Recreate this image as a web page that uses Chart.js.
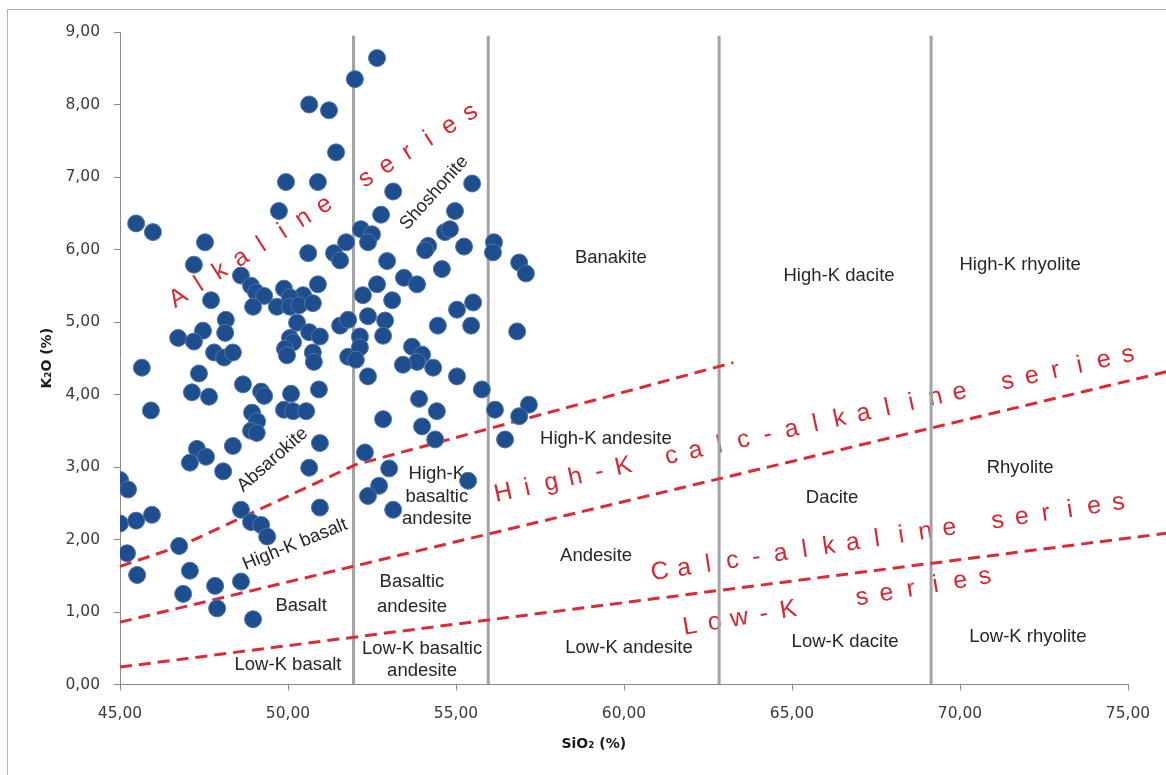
<!DOCTYPE html>
<html>
<head>
<meta charset="utf-8">
<script src="https://cdn.jsdelivr.net/npm/chart.js@4.4.0/dist/chart.umd.min.js"></script>
<style>
  html, body { margin: 0; padding: 0; background: #ffffff; }
  canvas { display: block; }
</style>
</head>
<body>
<canvas id="chart" width="1166" height="775"></canvas>
<script>
// SiO2 (%) and K2O (%) of the analysed samples
const sio2 = [
  45.48, 45.98, 47.53, 47.20, 48.60, 48.90, 49.05, 49.29, 49.88, 50.45,
  50.89, 50.06, 49.67, 50.06, 50.33, 50.74, 48.96, 47.71, 50.27, 51.55,
  51.79, 48.15, 48.13, 47.47, 46.73, 47.20, 50.06, 50.15, 50.63, 50.95,
  49.91, 49.97, 50.74, 50.77, 47.80, 48.10, 48.36, 45.65, 47.35, 51.79,
  48.66, 49.20, 49.29, 50.92, 50.09, 47.14, 47.65, 45.92, 48.93, 49.08,
  49.88, 50.15, 50.54, 48.90, 49.07, 50.95, 47.29, 47.56, 47.08, 48.36,
  48.07, 50.63, 45.00, 45.24, 45.00, 45.48, 45.95, 48.60, 48.90, 49.20,
  49.38, 50.95, 46.76, 45.21, 45.51, 47.08, 47.83, 48.60, 46.88, 47.89,
  48.96, 50.63, 51.22, 51.43, 49.94, 50.89, 49.73, 51.99, 52.65, 50.60,
  51.37, 51.55, 51.73,
  55.48, 53.13, 52.77, 54.97, 52.17, 52.50, 54.67, 54.82, 56.13, 52.38,
  52.95, 54.17, 54.08, 55.24, 56.10, 56.88, 57.08, 54.58, 53.45, 53.84,
  52.65, 52.23, 53.10, 55.51, 55.03, 52.38, 52.89, 52.83, 52.14, 54.46,
  55.45, 56.82, 52.14, 52.02, 53.69, 53.99, 53.84, 53.42, 54.32, 52.38,
  55.03, 55.77, 53.90, 54.43, 52.83, 53.99, 56.16, 57.17, 56.88, 54.38,
  56.46, 52.29, 53.01, 52.71, 52.38, 53.13, 55.36
];
const k2o = [
  6.36, 6.24, 6.10, 5.79, 5.64, 5.50, 5.41, 5.36, 5.46, 5.37,
  5.52, 5.34, 5.21, 5.21, 5.23, 5.26, 5.21, 5.30, 4.99, 4.95,
  5.03, 5.03, 4.85, 4.88, 4.78, 4.73, 4.78, 4.72, 4.86, 4.80,
  4.63, 4.54, 4.58, 4.45, 4.58, 4.51, 4.58, 4.37, 4.29, 4.52,
  4.14, 4.04, 3.98, 4.07, 4.01, 4.03, 3.97, 3.78, 3.75, 3.63,
  3.79, 3.77, 3.77, 3.50, 3.47, 3.33, 3.25, 3.14, 3.06, 3.29,
  2.94, 2.99, 2.82, 2.69, 2.22, 2.26, 2.34, 2.41, 2.24, 2.20,
  2.04, 2.44, 1.91, 1.81, 1.51, 1.57, 1.36, 1.42, 1.25, 1.05,
  0.90, 8.00, 7.92, 7.34, 6.93, 6.93, 6.53, 8.35, 8.64, 5.95,
  5.95, 5.85, 6.10,
  6.91, 6.80, 6.48, 6.53, 6.28, 6.21, 6.24, 6.28, 6.10, 6.10,
  5.84, 6.05, 5.99, 6.04, 5.96, 5.82, 5.67, 5.73, 5.61, 5.52,
  5.52, 5.37, 5.30, 5.27, 5.17, 5.08, 5.02, 4.81, 4.80, 4.95,
  4.95, 4.87, 4.65, 4.48, 4.66, 4.55, 4.45, 4.41, 4.37, 4.25,
  4.25, 4.07, 3.94, 3.77, 3.66, 3.56, 3.79, 3.86, 3.70, 3.38,
  3.38, 3.20, 2.98, 2.74, 2.60, 2.41, 2.81
];

// Axis ranges and tick steps
const xRange = [45, 75];
const xStep = 5;
const yRange = [0, 9];
const yStep = 1;

// Vertical SiO2 boundaries between rock names (K2O 0 up to the top)
const fieldBoundaries = [51.95, 55.96, 62.83, 69.14];
const fieldBoundaryTop = 8.95;

// Series boundaries (Peccerillo & Taylor type K2O-SiO2 divisions)
const shoshoniteLineX = [45, 46.8, 52, 63.25];
const shoshoniteLineY = [1.63, 1.91, 3.03, 4.44];
const highKLineX = [45, 76.2];
const highKLineY = [0.86, 4.32];
const lowKLineX = [45, 76.2];
const lowKLineY = [0.24, 2.09];

// Rock field names: text, SiO2, K2O, rotation (degrees, counter-clockwise)
const fieldText = [
  'Banakite', 'High-K dacite', 'High-K rhyolite', 'High-K andesite', 'Rhyolite',
  'Dacite', 'Andesite', 'Basaltic', 'andesite', 'High-K', 'basaltic', 'andesite',
  'Basalt', 'Low-K basalt', 'Low-K basaltic', 'andesite', 'Low-K andesite',
  'Low-K dacite', 'Low-K rhyolite', 'Shoshonite', 'Absarokite', 'High-K basalt'
];
const fieldX = [
  59.61, 66.40, 71.79, 59.46, 71.79,
  66.19, 59.17, 53.69, 53.69, 54.43, 54.43, 54.43,
  50.39, 50.00, 53.99, 53.99, 60.15,
  66.58, 72.02, 54.35, 49.54, 50.21
];
const fieldY = [
  5.89, 5.64, 5.79, 3.39, 2.99,
  2.58, 1.78, 1.42, 1.07, 2.91, 2.59, 2.28,
  1.08, 0.27, 0.49, 0.19, 0.50,
  0.59, 0.66, 6.78, 3.10, 1.93
];
const fieldAngle = [
  0, 0, 0, 0, 0,
  0, 0, 0, 0, 0, 0, 0,
  0, 0, 0, 0, 0,
  0, 0, 48, 41.5, 22
];

// Magma series names, spread letter by letter along the boundaries
const seriesText = ['Alkaline series', 'High-K calc-alkaline series', 'Calc-alkaline series', 'Low-K  series'];
const seriesX = [51.08, 65.70, 67.89, 66.35];
const seriesY = [6.61, 3.59, 2.03, 1.14];
const seriesAngle = [32.4, 12.5, 8.6, 9.6];
const seriesStep = [24.7, 24.6, 24.4, 24.9];

const fmt = v => v.toFixed(2).replace('.', ',');

const boundaryDatasets = fieldBoundaries.map(b => ({
  type: 'line',
  data: [{ x: b, y: 0 }, { x: b, y: fieldBoundaryTop }],
  borderColor: '#a3a3a3',
  borderWidth: 3,
  pointRadius: 0,
  fill: false,
  order: 3
}));

const dashedLine = (xs, ys) => ({
  type: 'line',
  data: xs.map((x, i) => ({ x, y: ys[i] })),
  borderColor: '#db2b36',
  borderWidth: 3,
  borderDash: [12, 7],
  pointRadius: 0,
  tension: 0,
  fill: false,
  clip: false,
  order: 2
});

const framePlugin = {
  id: 'frame',
  beforeDraw(chart) {
    const ctx = chart.ctx;
    ctx.save();
    ctx.fillStyle = '#ffffff';
    ctx.fillRect(0, 0, chart.width, chart.height);
    ctx.strokeStyle = '#b4b4b4';
    ctx.lineWidth = 1;
    ctx.strokeRect(7.5, 9.5, chart.width + 10, chart.height + 10);
    ctx.restore();
  }
};

const labelPlugin = {
  id: 'fieldLabels',
  beforeDatasetsDraw(chart) {
    const ctx = chart.ctx;
    const sx = chart.scales.x, sy = chart.scales.y;
    ctx.save();
    // rock field names
    ctx.fillStyle = '#262626';
    ctx.font = '18.5px "Liberation Sans", Arial, sans-serif';
    ctx.textAlign = 'center';
    ctx.textBaseline = 'middle';
    fieldText.forEach((t, i) => {
      ctx.save();
      ctx.translate(sx.getPixelForValue(fieldX[i]), sy.getPixelForValue(fieldY[i]));
      ctx.rotate(-fieldAngle[i] * Math.PI / 180);
      ctx.fillText(t, 0, 0);
      ctx.restore();
    });
    // series names
    ctx.fillStyle = '#d42832';
    ctx.font = '25px "Liberation Sans", Arial, sans-serif';
    seriesText.forEach((t, i) => {
      const chars = Array.from(t);
      const mid = (chars.length - 1) / 2;
      ctx.save();
      ctx.translate(sx.getPixelForValue(seriesX[i]), sy.getPixelForValue(seriesY[i]));
      ctx.rotate(-seriesAngle[i] * Math.PI / 180);
      chars.forEach((c, j) => {
        if (c !== ' ') ctx.fillText(c, (j - mid) * seriesStep[i], 0);
      });
      ctx.restore();
    });
    ctx.restore();
  },
  afterDraw(chart) {
    const ctx = chart.ctx;
    const a = chart.chartArea;
    ctx.save();
    ctx.fillStyle = '#1a1a1a';
    ctx.font = 'bold 14px "DejaVu Sans", Verdana, sans-serif';
    ctx.textAlign = 'center';
    ctx.textBaseline = 'middle';
    ctx.save();
    ctx.translate(a.left - 73, (a.top + a.bottom) / 2);
    ctx.rotate(-Math.PI / 2);
    ctx.fillText('K\u2082O (%)', 0, 0);
    ctx.restore();
    ctx.fillText('SiO\u2082 (%)', chart.scales.x.getPixelForValue(59.1), a.bottom + 60);
    ctx.restore();
  }
};

const axisCommon = {
  type: 'linear',
  grid: { display: true, drawOnChartArea: false, drawTicks: true, tickLength: 6, color: '#8a8a8a', lineWidth: 1 },
  border: { display: true, color: '#8a8a8a', width: 1 },
  ticks: {
    color: '#3a3a3a',
    font: { family: '"DejaVu Sans", Verdana, sans-serif', size: 15.5 },
    callback: v => fmt(v)
  }
};

new Chart(document.getElementById('chart'), {
  type: 'scatter',
  data: {
    datasets: [
      {
        label: 'Samples',
        data: sio2.map((x, i) => ({ x, y: k2o[i] })),
        backgroundColor: '#1f4e8e',
        borderColor: '#4f76ab',
        borderWidth: 1,
        pointRadius: 8.5,
        pointHoverRadius: 8.5,
        order: 0
      },
      dashedLine(shoshoniteLineX, shoshoniteLineY),
      dashedLine(highKLineX, highKLineY),
      dashedLine(lowKLineX, lowKLineY),
      ...boundaryDatasets
    ]
  },
  options: {
    responsive: false,
    devicePixelRatio: 1,
    animation: false,
    layout: { padding: { top: 32, right: 38, left: 0, bottom: 0 } },
    plugins: { legend: { display: false }, tooltip: { enabled: false } },
    scales: {
      x: Object.assign({}, axisCommon, {
        min: xRange[0], max: xRange[1],
        ticks: Object.assign({}, axisCommon.ticks, { stepSize: xStep, padding: 14, maxRotation: 0 }),
        afterFit: s => { s.height = 90.5; }
      }),
      y: Object.assign({}, axisCommon, {
        min: yRange[0], max: yRange[1],
        ticks: Object.assign({}, axisCommon.ticks, { stepSize: yStep, padding: 14 }),
        afterFit: s => { s.width = 120; }
      })
    }
  },
  plugins: [framePlugin, labelPlugin]
});
</script>
</body>
</html>
